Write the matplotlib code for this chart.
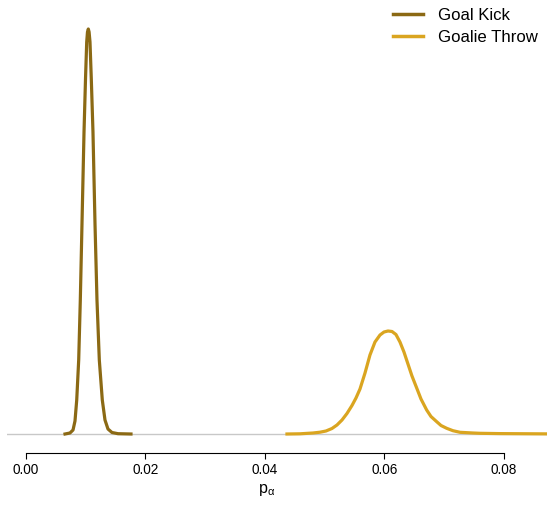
import matplotlib
matplotlib.use("Agg")
import matplotlib.pyplot as plt

plt.rcParams["font.family"] = ["Liberation Sans", "DejaVu Sans"]
plt.rcParams["mathtext.fontset"] = "custom"
plt.rcParams["mathtext.rm"] = "Liberation Sans"
plt.rcParams["mathtext.it"] = "Liberation Sans:italic"

# Posterior density of p_alpha for each restart type
goal_kick_p = [0.00653, 0.00736, 0.00787, 0.00820, 0.00849, 0.00882, 0.00909,
               0.00937, 0.00971, 0.00996, 0.01016, 0.01029, 0.01043, 0.01056,
               0.01071, 0.01093, 0.01121, 0.01155, 0.01188, 0.01227, 0.01277,
               0.01322, 0.01372, 0.01439, 0.01540, 0.01757]
goal_kick_density = [0, 1, 4, 13, 34, 74, 134,
                     210, 302, 355, 392, 402, 405, 402,
                     392, 355, 302, 210, 134, 74, 34,
                     14, 5, 1.5, 0.3, 0]

goalie_throw_p = [0.04368, 0.04586, 0.04803, 0.04921, 0.05021, 0.05121, 0.05205,
                  0.05289, 0.05372, 0.05456, 0.05523, 0.05590, 0.05674, 0.05757,
                  0.05841, 0.05925, 0.05992, 0.06059, 0.06126, 0.06192, 0.06259,
                  0.06326, 0.06393, 0.06460, 0.06539, 0.06611, 0.06706, 0.06778,
                  0.06874, 0.06946, 0.07041, 0.07146, 0.07264, 0.07481, 0.07598,
                  0.07933, 0.08800]
goalie_throw_density = [0, 0.2, 1, 1.8, 3, 5.5, 9,
                        14, 20.5, 28.5, 36, 45, 61, 79,
                        92, 99, 102, 103, 102.5, 99.5, 92,
                        82, 70, 58, 46, 35, 24, 17.5,
                        12.3, 8.5, 5.7, 3.3, 1.7, 1.0, 0.7,
                        0.4, 0.1]

series_labels = ["Goal Kick", "Goalie Throw"]
series_colors = ["#8B6914", "#DAA520"]
x_ticks = [0.00, 0.02, 0.04, 0.06, 0.08]
x_tick_labels = ["0.00", "0.02", "0.04", "0.06", "0.08"]

W, H = 547, 505
fig = plt.figure(figsize=(W / 100, H / 100), dpi=100)
ax = fig.add_axes([7 / W, (H - 453) / H, 540 / W, 440 / H])

ax.axhline(0, color="#C8C8C8", lw=1.0, zorder=1)
ax.plot(goal_kick_p, goal_kick_density, color=series_colors[0], lw=2.3,
        label=series_labels[0], zorder=3, solid_joinstyle="round")
ax.plot(goalie_throw_p, goalie_throw_density, color=series_colors[1], lw=2.3,
        label=series_labels[1], zorder=2, solid_joinstyle="round")

ax.set_xlim(-0.00318, 0.0872)
ax.set_ylim(-19, 421)

for side in ["left", "right", "top"]:
    ax.spines[side].set_visible(False)
ax.spines["bottom"].set_bounds(0.0, 0.08)
ax.spines["bottom"].set_linewidth(0.8)
ax.set_yticks([])
ax.set_xticks(x_ticks)
ax.set_xticklabels(x_tick_labels)
ax.tick_params(axis="x", direction="out", length=4.3, width=0.8,
               pad=3.0, labelsize=9.8)

fig.text(267 / W, (H - 490) / H, r"$\mathrm{p}_{\mathrm{\alpha}}$", ha="center",
         va="center", fontsize=11.5)

leg = ax.legend(loc="upper right", bbox_to_anchor=(538 / W, (H - 7.5) / H),
                bbox_transform=fig.transFigure, frameon=False, fontsize=12.1,
                handlelength=1.8, handletextpad=0.9, borderpad=0,
                borderaxespad=0, labelspacing=0.42)
for line in leg.get_lines():
    line.set_linewidth(2.5)

fig.savefig("out.png", dpi=100)
